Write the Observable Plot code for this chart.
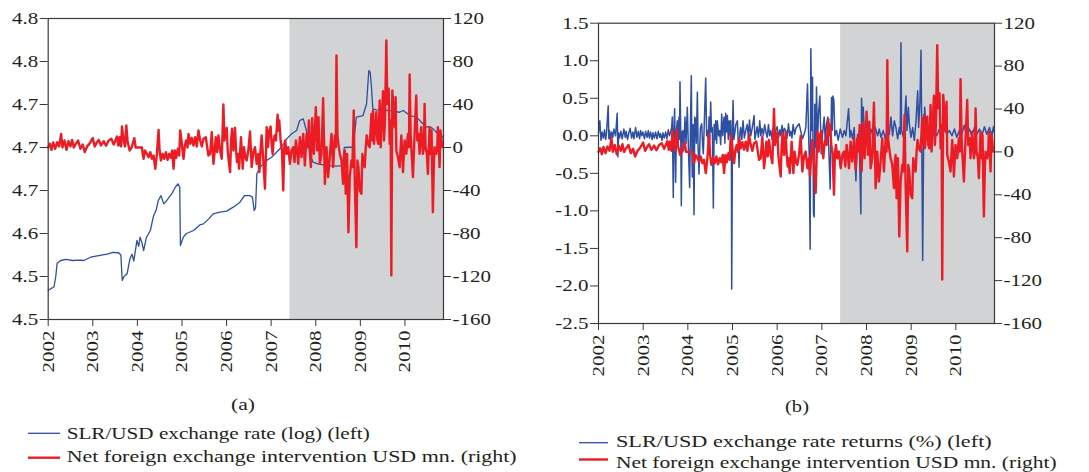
<!DOCTYPE html>
<html><head><meta charset="utf-8">
<script src="https://cdn.jsdelivr.net/npm/d3@7"></script>
<script src="https://cdn.jsdelivr.net/npm/@observablehq/plot@0.6"></script>
<style>
html,body{margin:0;padding:0;background:#fff;}
#wrap{position:relative;width:1089px;height:472px;overflow:hidden;background:#fff;}
#pa,#pb{position:absolute;top:0;}
#pa{left:0;} #pb{left:545px;}
#leg{position:absolute;left:0;top:380px;}
</style></head><body>
<div id="wrap"><div id="pa"></div><div id="pb"></div><svg id="leg" width="1089" height="92"></svg></div>
<script>
// ---------- data ----------
const years = [2002, 2003, 2004, 2005, 2006, 2007, 2008, 2009, 2010];
const xDomain = [2002, 2010.865];
const shade = [[2007.42, 2010.865]];
const rateTicks = [4.45, 4.50, 4.55, 4.60, 4.65, 4.70, 4.75, 4.80];
const rateTickLabels = ["4.5", "4.5", "4.6", "4.7", "4.7", "4.7", "4.8", "4.8"];
const returnTicks = [-2.5, -2.0, -1.5, -1.0, -0.5, 0.0, 0.5, 1.0, 1.5];
const interventionTicks = [-160, -120, -80, -40, 0, 40, 80, 120];

// SLR/USD exchange rate (log) [year, value]
const logRate = [
[2002.00,4.484],[2002.10,4.487],[2002.13,4.488],[2002.17,4.500],[2002.20,4.5155],[2002.28,4.5186],[2002.40,4.520],
[2002.55,4.5186],[2002.70,4.519],[2002.80,4.5186],[2002.95,4.5224],[2003.10,4.524],[2003.32,4.526],[2003.45,4.528],
[2003.58,4.5276],[2003.63,4.525],[2003.66,4.4953],[2003.70,4.500],[2003.77,4.5031],[2003.83,4.520],[2003.88,4.526],
[2003.92,4.518],[2003.99,4.5419],[2004.03,4.535],[2004.06,4.5457],[2004.10,4.540],[2004.14,4.530],[2004.20,4.545],
[2004.29,4.5535],[2004.36,4.570],[2004.42,4.577],[2004.47,4.5884],[2004.53,4.594],[2004.59,4.5845],[2004.66,4.5884],
[2004.77,4.596],[2004.85,4.6038],[2004.91,4.6078],[2004.95,4.6038],[2004.965,4.536],[2005.03,4.5457],[2005.10,4.550],
[2005.26,4.5535],[2005.40,4.560],[2005.48,4.5612],[2005.60,4.567],[2005.70,4.5729],[2005.85,4.5748],[2006.00,4.576],
[2006.15,4.5806],[2006.30,4.5864],[2006.40,4.594],[2006.53,4.594],[2006.58,4.592],[2006.62,4.5767],[2006.65,4.580],
[2006.68,4.6194],[2006.75,4.627],[2006.90,4.635],[2007.01,4.6387],[2007.12,4.6445],[2007.23,4.6503],[2007.35,4.660],
[2007.46,4.6659],[2007.57,4.6698],[2007.64,4.6814],[2007.72,4.6833],[2007.79,4.6698],[2007.87,4.6426],[2007.94,4.6329],
[2008.05,4.631],[2008.24,4.629],[2008.47,4.6283],[2008.60,4.629],[2008.64,4.650],[2008.76,4.6503],[2008.84,4.6503],
[2008.91,4.6853],[2009.06,4.6872],[2009.14,4.7008],[2009.19,4.7395],[2009.22,4.7376],[2009.25,4.7201],[2009.28,4.695],
[2009.36,4.6938],[2009.66,4.693],[2009.88,4.691],[2009.96,4.693],[2010.11,4.6872],[2010.26,4.6853],[2010.37,4.6794],
[2010.48,4.6736],[2010.55,4.6744],[2010.63,4.6717],[2010.74,4.6659],[2010.81,4.664],[2010.86,4.662]
];

// SLR/USD exchange rate returns (%) [year, value]
const returnsPct = [
[2002.000,0.04],[2002.030,0.20],[2002.055,-0.06],[2002.082,0.05],[2002.110,-0.03],[2002.135,0.08],[2002.160,-0.05],
[2002.180,0.04],[2002.217,0.40],[2002.232,-0.04],[2002.247,0.07],[2002.270,-0.06],[2002.292,0.05],[2002.320,-0.02],
[2002.344,0.09],[2002.381,0.00],[2002.419,0.30],[2002.434,-0.28],[2002.450,0.04],[2002.471,-0.03],[2002.500,0.06],
[2002.531,-0.04],[2002.568,0.09],[2002.600,-0.02],[2002.621,0.06],[2002.650,-0.05],[2002.680,0.04],[2002.710,0.10],
[2002.740,-0.03],[2002.770,0.05],[2002.793,-0.04],[2002.830,0.11],[2002.860,-0.02],[2002.890,0.06],[2002.920,-0.04],
[2002.942,0.07],[2002.970,0.00],[2002.994,0.05],[2003.030,-0.04],[2003.054,0.06],[2003.090,-0.02],[2003.114,0.07],
[2003.140,-0.03],[2003.166,0.05],[2003.200,-0.05],[2003.219,0.04],[2003.250,-0.03],[2003.278,0.05],[2003.310,-0.04],
[2003.338,0.06],[2003.370,-0.02],[2003.390,0.03],[2003.420,-0.06],[2003.443,0.04],[2003.470,-0.03],[2003.503,0.05],
[2003.530,-0.04],[2003.562,0.08],[2003.590,0.00],[2003.615,0.05],[2003.640,0.12],[2003.652,0.25],[2003.674,-0.82],
[2003.690,0.10],[2003.704,0.36],[2003.715,-0.10],[2003.727,-0.62],[2003.745,0.08],[2003.764,0.20],[2003.780,-0.15],
[2003.802,0.25],[2003.815,-0.05],[2003.824,0.72],[2003.840,0.10],[2003.854,-0.93],[2003.870,0.05],[2003.891,0.07],
[2003.910,-0.20],[2003.936,0.25],[2003.960,-0.10],[2003.988,0.38],[2004.010,-0.12],[2004.041,-0.69],[2004.060,0.20],
[2004.078,0.80],[2004.090,-0.20],[2004.100,-0.55],[2004.120,0.15],[2004.138,-1.05],[2004.155,0.25],[2004.175,0.20],
[2004.190,-0.10],[2004.213,0.58],[2004.230,-0.15],[2004.250,-0.51],[2004.280,0.10],[2004.310,0.16],[2004.330,-0.12],
[2004.347,-0.24],[2004.370,0.20],[2004.400,0.77],[2004.420,0.00],[2004.437,0.07],[2004.460,-0.10],[2004.474,0.25],
[2004.490,-0.05],[2004.512,0.45],[2004.530,0.05],[2004.549,0.11],[2004.571,-0.96],[2004.590,0.15],[2004.610,-0.05],
[2004.624,0.20],[2004.645,-0.10],[2004.661,0.20],[2004.690,0.00],[2004.713,0.07],[2004.735,-0.12],[2004.758,0.29],
[2004.780,0.00],[2004.810,0.25],[2004.830,-0.10],[2004.848,0.30],[2004.870,0.05],[2004.885,0.27],[2004.905,-0.05],
[2004.923,0.20],[2004.945,0.00],[2004.960,0.20],[2004.975,-0.30],[2004.982,-2.04],[2004.990,-1.13],[2005.000,0.10],
[2005.012,0.47],[2005.030,-0.05],[2005.050,0.03],[2005.075,0.15],[2005.109,0.20],[2005.130,-0.10],[2005.147,-0.42],
[2005.165,0.05],[2005.184,0.11],[2005.210,-0.05],[2005.236,0.20],[2005.265,-0.03],[2005.296,0.07],[2005.330,0.15],
[2005.356,-0.03],[2005.380,0.21],[2005.408,0.00],[2005.440,0.10],[2005.483,0.27],[2005.500,-0.05],[2005.521,0.02],
[2005.550,0.12],[2005.580,-0.02],[2005.610,0.20],[2005.633,0.00],[2005.660,0.10],[2005.692,0.01],[2005.720,0.15],
[2005.745,0.06],[2005.775,-0.02],[2005.805,0.15],[2005.830,0.00],[2005.857,0.07],[2005.885,-0.05],[2005.909,0.10],
[2005.940,0.00],[2005.969,0.07],[2006.000,0.12],[2006.029,-0.03],[2006.060,0.08],[2006.081,0.00],[2006.110,0.14],
[2006.133,0.02],[2006.160,0.10],[2006.193,0.07],[2006.220,-0.03],[2006.253,0.16],[2006.280,0.00],[2006.305,0.06],
[2006.330,-0.03],[2006.357,0.15],[2006.390,0.02],[2006.417,0.10],[2006.492,0.16],[2006.566,-0.04],[2006.604,0.02],
[2006.641,0.11],[2006.679,0.69],[2006.701,0.07],[2006.716,-0.24],[2006.738,-1.51],[2006.753,1.16],[2006.776,0.07],
[2006.791,0.78],[2006.813,-1.04],[2006.828,-1.08],[2006.843,0.42],[2006.865,-0.15],[2006.880,0.65],[2006.903,-0.06],
[2006.925,0.29],[2006.955,0.53],[2006.985,-0.24],[2007.015,0.02],[2007.052,0.25],[2007.075,-0.06],[2007.105,0.16],
[2007.134,0.25],[2007.164,-0.33],[2007.187,-0.71],[2007.202,-0.02],[2007.217,0.51],[2007.232,0.07],[2007.247,0.53],
[2007.269,0.47],[2007.291,0.00],[2007.329,0.07],[2007.366,-0.06],[2007.411,0.09],[2007.463,-0.02],[2007.501,0.07],
[2007.538,0.00],[2007.598,0.36],[2007.628,-0.02],[2007.650,0.07],[2007.688,-0.04],[2007.725,0.11],[2007.762,-0.60],
[2007.800,0.02],[2007.837,-0.04],[2007.874,-1.04],[2007.889,0.50],[2007.912,0.07],[2007.927,0.38],[2007.957,0.00],
[2008.001,0.07],[2008.046,-0.04],[2008.099,0.09],[2008.151,-0.02],[2008.196,0.11],[2008.248,0.00],[2008.286,0.09],
[2008.323,-0.02],[2008.375,0.07],[2008.420,-0.04],[2008.472,0.11],[2008.510,0.02],[2008.547,0.25],[2008.584,0.00],
[2008.622,0.20],[2008.659,0.11],[2008.697,-0.04],[2008.734,0.11],[2008.756,0.02],[2008.771,1.24],[2008.786,0.07],
[2008.824,-0.02],[2008.861,0.29],[2008.883,0.53],[2008.906,0.07],[2008.936,0.38],[2008.958,0.16],[2008.996,-0.02],
[2009.033,0.11],[2009.070,-0.06],[2009.108,0.20],[2009.145,0.60],[2009.167,0.11],[2009.197,0.47],[2009.220,1.14],
[2009.235,0.07],[2009.257,-1.66],[2009.279,-0.02],[2009.302,0.38],[2009.332,0.07],[2009.369,0.00],[2009.407,0.09],
[2009.466,-0.02],[2009.519,0.07],[2009.571,0.00],[2009.631,0.09],[2009.691,0.00],[2009.743,0.11],[2009.795,0.02],
[2009.855,0.07],[2009.915,0.00],[2009.967,0.09],[2010.019,-0.02],[2010.079,0.07],[2010.132,0.02],[2010.191,0.14],
[2010.244,0.00],[2010.304,0.09],[2010.356,0.00],[2010.416,0.11],[2010.468,0.02],[2010.528,0.09],[2010.580,0.00],
[2010.640,0.12],[2010.692,0.02],[2010.752,0.11],[2010.804,0.00],[2010.840,0.12],[2010.860,0.05]
];

// Net foreign exchange intervention, USD mn [year, value]
const intervention = [
[2002.000,0],[2002.037,3.4],[2002.074,-2.2],[2002.111,4.7],[2002.156,-1.2],[2002.201,5],[2002.246,1],[2002.290,12.7],
[2002.320,0],[2002.365,6.5],[2002.410,-2.2],[2002.454,5.9],[2002.499,1],[2002.536,7.1],[2002.574,0],[2002.619,3.4],
[2002.671,6.5],[2002.723,-1.2],[2002.775,2.8],[2002.820,-4.3],[2002.872,1],[2002.924,3.4],[2002.999,8.7],[2003.043,1],
[2003.096,5],[2003.133,7.1],[2003.185,1.9],[2003.245,5.9],[2003.297,1.6],[2003.357,6.5],[2003.416,8.1],[2003.469,2.8],
[2003.513,7.1],[2003.543,10.2],[2003.573,1.9],[2003.603,9.6],[2003.633,1],[2003.655,19.5],[2003.692,6.5],[2003.722,1],
[2003.752,20.5],[2003.782,5],[2003.812,0],[2003.826,-2.8],[2003.871,0],[2003.931,8.7],[2003.961,0],[2004.102,0],
[2004.125,-7.4],[2004.140,-10.5],[2004.170,-2.8],[2004.214,-5.9],[2004.252,-9],[2004.289,-4.3],[2004.326,-10.5],
[2004.363,-7.4],[2004.401,-19.8],[2004.438,-5.9],[2004.475,16.4],[2004.498,-2.8],[2004.528,-12.1],[2004.565,-5.9],
[2004.602,-10.5],[2004.639,-4.3],[2004.677,-11.5],[2004.714,-5.9],[2004.751,-9.6],[2004.781,-2.8],[2004.811,-19.8],
[2004.841,-2.8],[2004.871,-9.6],[2004.908,-1.2],[2004.938,-7.4],[2004.960,15.8],[2004.990,6.5],[2005.020,-5.9],
[2005.035,-10.5],[2005.065,1.9],[2005.094,6.5],[2005.124,0],[2005.146,12.7],[2005.184,3.4],[2005.221,9],[2005.258,1.9],
[2005.296,9.6],[2005.333,1],[2005.370,15.8],[2005.408,6.5],[2005.445,1],[2005.482,8.1],[2005.534,9.6],[2005.571,-1.2],
[2005.594,-7.4],[2005.631,-5.9],[2005.668,14.3],[2005.706,-15.2],[2005.735,-2.8],[2005.758,9.6],[2005.788,-4.3],
[2005.818,11.2],[2005.855,-2.8],[2005.892,-10.5],[2005.929,40],[2005.952,6.5],[2005.974,12.7],[2006.004,18.3],
[2006.026,-2.8],[2006.049,-12.1],[2006.079,-22.9],[2006.101,6.5],[2006.123,17.4],[2006.153,-2.8],[2006.190,18.3],
[2006.213,-2.8],[2006.235,-13.6],[2006.257,-5.9],[2006.280,-19.8],[2006.324,9.6],[2006.362,-19.8],[2006.391,0.3],
[2006.421,-9],[2006.451,-12.1],[2006.488,-2.8],[2006.526,14.9],[2006.563,-18.3],[2006.600,-4.3],[2006.638,0.3],
[2006.675,-15.2],[2006.712,-5.9],[2006.735,-22.9],[2006.764,-1.2],[2006.787,11.2],[2006.824,-12.1],[2006.861,-38.4],
[2006.899,18.9],[2006.928,0.3],[2006.958,15.8],[2006.988,19.5],[2007.010,3.4],[2007.033,-5.9],[2007.055,6.5],
[2007.078,11.2],[2007.107,6.5],[2007.145,30.4],[2007.167,15.8],[2007.182,25.1],[2007.212,6.5],[2007.242,-2.8],
[2007.271,-40],[2007.294,0.3],[2007.316,6.5],[2007.346,-5.9],[2007.383,0.3],[2007.421,-15.2],[2007.458,-2.8],
[2007.495,0.3],[2007.525,-13.6],[2007.555,6.5],[2007.585,-4.3],[2007.607,-15.2],[2007.644,9.6],[2007.682,-9],
[2007.719,12.7],[2007.756,-16.7],[2007.794,12.7],[2007.823,0.3],[2007.846,25.1],[2007.868,-4.3],[2007.891,-18.3],
[2007.920,27.3],[2007.943,6.5],[2007.957,-5.9],[2007.980,15.8],[2008.002,37.5],[2008.032,-2.8],[2008.062,28.2],
[2008.092,-15.2],[2008.129,-5.9],[2008.166,45.9],[2008.189,0.3],[2008.204,-33.8],[2008.241,0.3],[2008.278,-27.6],
[2008.315,-9],[2008.353,12.7],[2008.390,-18.3],[2008.427,11.2],[2008.450,0.3],[2008.465,85.6],[2008.487,11.2],
[2008.517,0.3],[2008.540,-5.9],[2008.577,-12.1],[2008.614,-33.8],[2008.636,-9],[2008.651,-2.8],[2008.673,-43.1],
[2008.703,-5.9],[2008.733,-78.9],[2008.763,-27.6],[2008.800,-12.1],[2008.822,-18.3],[2008.852,34.4],[2008.875,-30.7],
[2008.912,-92.7],[2008.934,-12.1],[2008.957,-18.3],[2008.987,-40],[2009.024,-43.1],[2009.046,-5.9],[2009.076,-15.2],
[2009.099,-18.3],[2009.121,0.3],[2009.143,11.2],[2009.173,3.4],[2009.210,0.3],[2009.248,31.3],[2009.270,6.5],
[2009.285,34.4],[2009.307,3.4],[2009.330,15.8],[2009.359,32.9],[2009.382,6.5],[2009.404,3.4],[2009.434,43.7],
[2009.456,0.3],[2009.479,25.1],[2009.509,52.4],[2009.531,6.5],[2009.553,25.1],[2009.583,99.5],[2009.605,40.6],
[2009.635,54.6],[2009.658,3.4],[2009.680,25.1],[2009.695,-119],[2009.717,53],[2009.747,34.4],[2009.770,18.9],
[2009.792,46.8],[2009.807,-2.8],[2009.844,-9],[2009.881,-18.3],[2009.919,11.2],[2009.941,-5.9],[2009.956,-22.9],
[2009.993,6.5],[2010.031,-5.9],[2010.068,12.7],[2010.090,0.3],[2010.105,67.9],[2010.128,12.7],[2010.143,0.3],
[2010.180,-27.6],[2010.217,12.7],[2010.254,48.4],[2010.277,6.5],[2010.306,12.7],[2010.329,-5.9],[2010.366,18.9],
[2010.403,-5.9],[2010.426,0.3],[2010.441,40.6],[2010.463,0.3],[2010.493,-5.9],[2010.515,-24.5],[2010.552,18.9],
[2010.575,-5.9],[2010.597,15.8],[2010.627,-60.1],[2010.649,-15.2],[2010.664,0.3],[2010.702,-5.9],[2010.724,0.3],
[2010.739,18.9],[2010.761,0.3],[2010.776,-18.3],[2010.798,15.8],[2010.821,6.5],[2010.836,0.3]
];

// ---------- styles ----------
const BLUE = "#2f4fa2", RED = "#ed1c24", SHADE = "#d1d3d4", INK = "#231f20";
const FONT = '"Liberation Serif", "Times New Roman", serif';
const STRETCH = 1.25;

function stretchTexts(root) {
  root.querySelectorAll("text").forEach(t => {
    const w = t.getComputedTextLength();
    if (w > 0) {
      t.setAttribute("textLength", (w * STRETCH).toFixed(2));
      t.setAttribute("lengthAdjust", "spacingAndGlyphs");
    }
  });
}

function panel(container, opts) {
  const {width, height, mL, mR, mT, mB, yDomain, yTicks, yFmt, leftSeries, blueWidth} = opts;
  const [y0, y1] = yDomain;
  const r0 = -160, r1 = 120;
  const toL = r => y0 + (r - r0) / (r1 - r0) * (y1 - y0);
  const fromL = v => r0 + (v - y0) / (y1 - y0) * (r1 - r0);
  const chart = Plot.plot({
    width, height,
    marginLeft: mL, marginRight: mR, marginTop: mT, marginBottom: mB,
    style: {fontFamily: FONT, fontSize: "16.8px", color: INK, background: "transparent", overflow: "visible"},
    x: {domain: xDomain},
    y: {domain: yDomain},
    marks: [
      Plot.rect(shade, {x1: d => d[0], x2: d => d[1], y1: () => y0, y2: () => y1, fill: SHADE}),
      Plot.line(leftSeries, {x: d => d[0], y: d => d[1], stroke: BLUE, strokeWidth: blueWidth}),
      Plot.line(intervention, {x: d => d[0], y: d => toL(d[1]), stroke: RED, strokeWidth: 2.4}),
      Plot.frame({stroke: "#3a3a3a", strokeWidth: 1.2}),
      Plot.axisY(yTicks, {anchor: "left", tickSize: 8, tickPadding: 2, tickFormat: yFmt, label: null, stroke: "#3a3a3a"}),
      Plot.axisY(interventionTicks.map(toL), {anchor: "right", tickSize: 7, tickPadding: 2,
        tickFormat: v => String(Math.round(fromL(v))), label: null, stroke: "#3a3a3a"}),
      Plot.axisX(years, {anchor: "bottom", tickSize: 7, tickPadding: 4, tickRotate: -90,
        tickFormat: d => String(d), label: null, stroke: "#3a3a3a"})
    ]
  });
  container.appendChild(chart);
  stretchTexts(chart);
}

panel(document.getElementById("pa"), {
  width: 545, height: 380, mL: 47.7, mR: 102, mT: 18, mB: 61,
  yDomain: [4.45, 4.80], yTicks: rateTicks,
  yFmt: v => rateTickLabels[rateTicks.findIndex(t => Math.abs(t - v) < 1e-6)],
  leftSeries: logRate, blueWidth: 1.3
});

panel(document.getElementById("pb"), {
  width: 544, height: 380, mL: 53, mR: 95, mT: 22.7, mB: 57,
  yDomain: [-2.5, 1.5], yTicks: returnTicks,
  yFmt: v => v.toFixed(1),
  leftSeries: returnsPct, blueWidth: 1.5
});

// ---------- captions & legends ----------
const leg = d3.select("#leg");
const captions = [
  {text: "(a)", x: 243, y: 30, len: 24, anchor: "middle"},
  {text: "(b)", x: 797, y: 32, len: 24, anchor: "middle"},
  {text: "SLR/USD exchange rate (log) (left)", x: 66.7, y: 58.5, len: 303, anchor: "start"},
  {text: "Net foreign exchange intervention USD mn. (right)", x: 66.7, y: 82, len: 450, anchor: "start"},
  {text: "SLR/USD exchange rate returns (%) (left)", x: 616, y: 66.7, len: 375.7, anchor: "start"},
  {text: "Net foreign exchange intervention USD mn. (right)", x: 616, y: 87.7, len: 440.7, anchor: "start"}
];
const swatches = [
  {x1: 28, x2: 60, y: 53.3, color: BLUE, w: 1.3},
  {x1: 28, x2: 60, y: 77.7, color: RED, w: 2.4},
  {x1: 579, x2: 608, y: 62.7, color: BLUE, w: 1.3},
  {x1: 579, x2: 608, y: 79.5, color: RED, w: 2.4}
];
leg.selectAll("line").data(swatches).join("line")
  .attr("x1", d => d.x1).attr("x2", d => d.x2).attr("y1", d => d.y).attr("y2", d => d.y)
  .attr("stroke", d => d.color).attr("stroke-width", d => d.w);
leg.selectAll("text").data(captions).join("text")
  .attr("x", d => d.x).attr("y", d => d.y).attr("text-anchor", d => d.anchor)
  .attr("textLength", d => d.len).attr("lengthAdjust", "spacingAndGlyphs")
  .attr("font-family", FONT).attr("font-size", 17.5).attr("fill", INK)
  .text(d => d.text);
</script>
</body></html>
